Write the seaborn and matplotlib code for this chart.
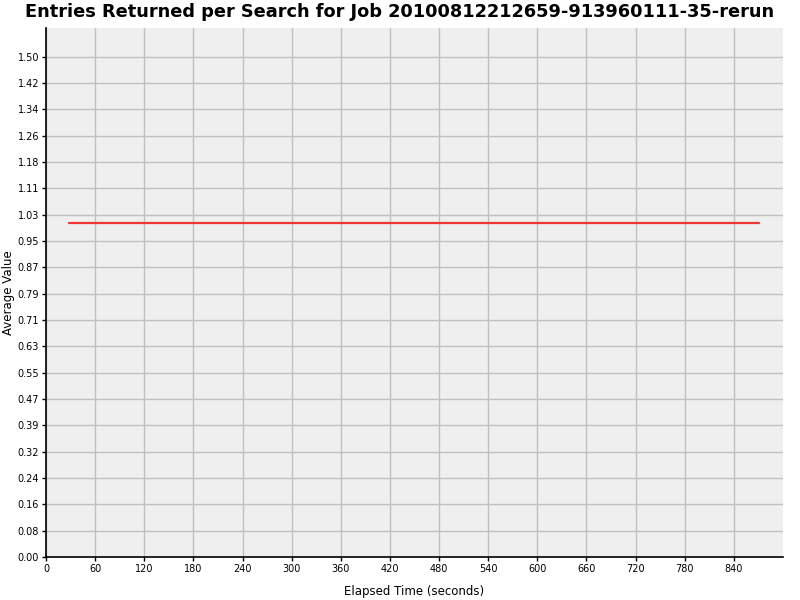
import matplotlib
matplotlib.use("Agg")
import matplotlib.pyplot as plt
import seaborn as sns
import numpy as np
import pandas as pd

# Data
elapsed_time = [28, 871]
average_value = [1.0, 1.0]
x_ticks = [0, 60, 120, 180, 240, 300, 360, 420, 480, 540, 600, 660, 720, 780, 840]
y_step = 1.5 / 19
y_ticks = [i * y_step for i in range(20)]
y_tick_labels = [f"{v:.2f}" for v in y_ticks]

title = "Entries Returned per Search for Job 20100812212659-913960111-35-rerun"

sns.set_theme(style="white")
plt.rcParams['font.family'] = ['DejaVu Sans']
plt.rcParams['text.color'] = 'black'
plt.rcParams['axes.labelcolor'] = 'black'
plt.rcParams['xtick.color'] = 'black'
plt.rcParams['ytick.color'] = 'black'

fig = plt.figure(figsize=(8, 6), dpi=100)
ax = fig.add_axes([46/800, 43/600, 737/800, 529/600])
ax.set_facecolor("#EFEFEF")

df = pd.DataFrame({"t": elapsed_time, "v": average_value})
sns.lineplot(data=df, x="t", y="v", ax=ax, color="#F03535", linewidth=1.6)

ax.set_xlim(0, 900)
ax.set_ylim(0, 1.586)
ax.set_xticks(x_ticks)
ax.set_xticklabels([str(t) for t in x_ticks])
ax.set_yticks(y_ticks)
ax.set_yticklabels(y_tick_labels)
ax.grid(True, color="#C0C0C0", linewidth=1.0)
ax.set_axisbelow(True)
for s in ["top", "right"]:
    ax.spines[s].set_visible(False)
for s in ["left", "bottom"]:
    ax.spines[s].set_color("black")
    ax.spines[s].set_linewidth(1.2)
ax.tick_params(axis="both", which="major", direction="out", length=3, width=1,
               color="black", labelsize=7, pad=2, bottom=True, left=True)
ax.set_xlabel("Elapsed Time (seconds)", fontsize=8.5, labelpad=8, color="black")
ax.set_ylabel("Average Value", fontsize=8.5, color="black")
ax.yaxis.set_label_coords(-31/737, 0.5)
fig.suptitle(title, fontsize=12.8, fontweight="bold", y=0.995, color="black")

fig.savefig("out.png", dpi=100, facecolor="white")
